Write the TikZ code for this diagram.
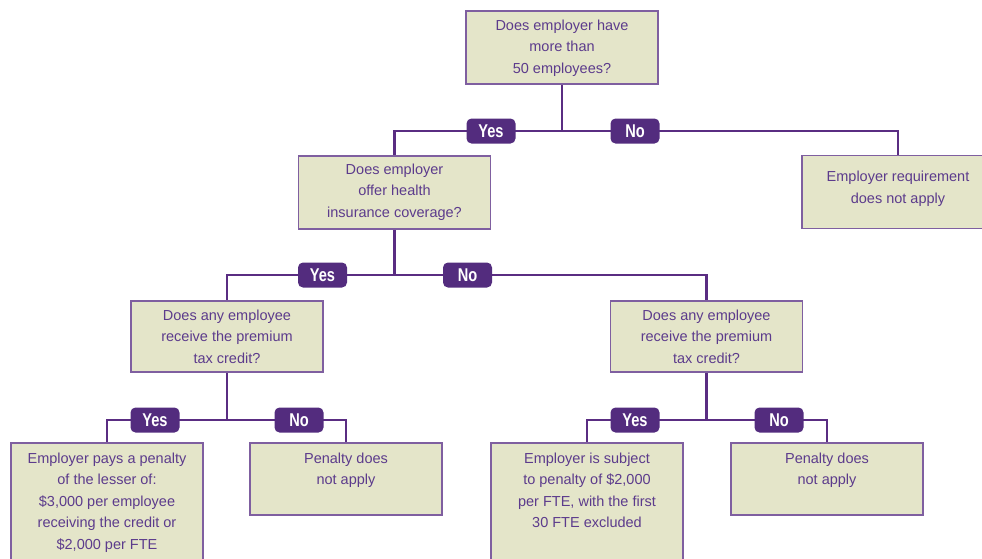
\documentclass[tikz,border=0pt]{standalone}
\usepackage{fontspec}
\setmainfont{Liberation Sans}
\newfontfamily\ansfont[FakeStretch=0.79, UprightFont=*-Bold]{Liberation Sans}
\usetikzlibrary{positioning, backgrounds}
\definecolor{boxfill}{HTML}{E4E5C9}
\definecolor{boxline}{HTML}{7F5FA0}
\definecolor{linkcol}{HTML}{5A2D82}
\definecolor{ansfill}{HTML}{532C7E}
\definecolor{textcol}{HTML}{5C3B8C}
% top aligned box text: height, top gap, lines
\newcommand{\boxlines}[3]{\parbox[c][#1pt][t]{192pt}{\centering\rule{0pt}{#2pt}#3}}
\tikzset{
    qbox/.style={draw=boxline, line width=1.6pt, fill=boxfill, text=textcol,
        inner sep=0pt, font=\fontsize{14.5}{21.5}\selectfont},
    ans/.style={fill=ansfill, text=white, rounded corners=5pt, inner sep=0pt,
        minimum width=49pt, minimum height=25pt, font=\ansfont\fontsize{18.5}{20}\selectfont},
    link/.style={draw=linkcol, line width=2.6pt}
}

\begin{document}
\begin{tikzpicture}[x=1pt, y=1pt]
        \clip (0,0) rectangle (982,-558);
        % questions
        \node[qbox] (q1) at (562,-47.5) {\boxlines{73}{19}{Does employer have\\ more than\\ 50 employees?}};
        \node[qbox] (q2) at (394.5,-192.5) {\boxlines{73}{18}{Does employer\\ offer health\\ insurance coverage?}};
        \node[qbox] (r1) at (898,-192) {\boxlines{73}{26}{Employer requirement\\ does not apply}};
        \node[qbox] (q3a) at (227,-336.5) {\boxlines{71}{19}{Does any employee\\ receive the premium\\ tax credit?}};
        \node[qbox] (q3b) at (706.5,-336.5) {\boxlines{71}{19}{Does any employee\\ receive the premium\\ tax credit?}};
        % outcomes
        \node[qbox] (e1) at (107,-508) {\boxlines{130}{20}{Employer pays a penalty\\ of the lesser of:\\ \$3,000 per employee\\ receiving the credit or\\ \$2,000 per FTE}};
        \node[qbox] (e2) at (346,-479) {\boxlines{72}{20}{Penalty does\\ not apply}};
        \node[qbox] (e3) at (587,-508) {\boxlines{130}{20}{Employer is subject\\ to penalty of \$2,000\\ per FTE, with the first\\ 30 FTE excluded}};
        \node[qbox] (e4) at (827,-479) {\boxlines{72}{20}{Penalty does\\ not apply}};
        % answers
        \node[ans] (yes1) at (491,-131) {Yes};
        \node[ans] (no1) at (635,-131) {No};
        \node[ans] (yes2) at (322.5,-275) {Yes};
        \node[ans] (no2) at (467.5,-275) {No};
        \node[ans] (yes3) at (155,-420) {Yes};
        \node[ans] (no3) at (299,-420) {No};
        \node[ans] (yes4) at (635,-420) {Yes};
        \node[ans] (no4) at (779,-420) {No};
        \coordinate (j1) at (q1.south |- yes1);
        \coordinate (j2) at (q2.south |- yes2);
        \coordinate (j3) at (q3a.south |- yes3);
        \coordinate (j4) at (q3b.south |- yes4);
        \begin{scope}[on background layer]
            \draw[link] (q1.south) -- (j1);
            \draw[link] (q2.north) |- (j1) -| (r1.north);
            \draw[link] (q2.south) -- (j2);
            \draw[link] (q3a.north) |- (j2) -| (q3b.north);
            \draw[link] (q3a.south) -- (j3);
            \draw[link] (e1.north) |- (j3) -| (e2.north);
            \draw[link] (q3b.south) -- (j4);
            \draw[link] (e3.north) |- (j4) -| (e4.north);
        \end{scope}
    \end{tikzpicture}
\end{document}
